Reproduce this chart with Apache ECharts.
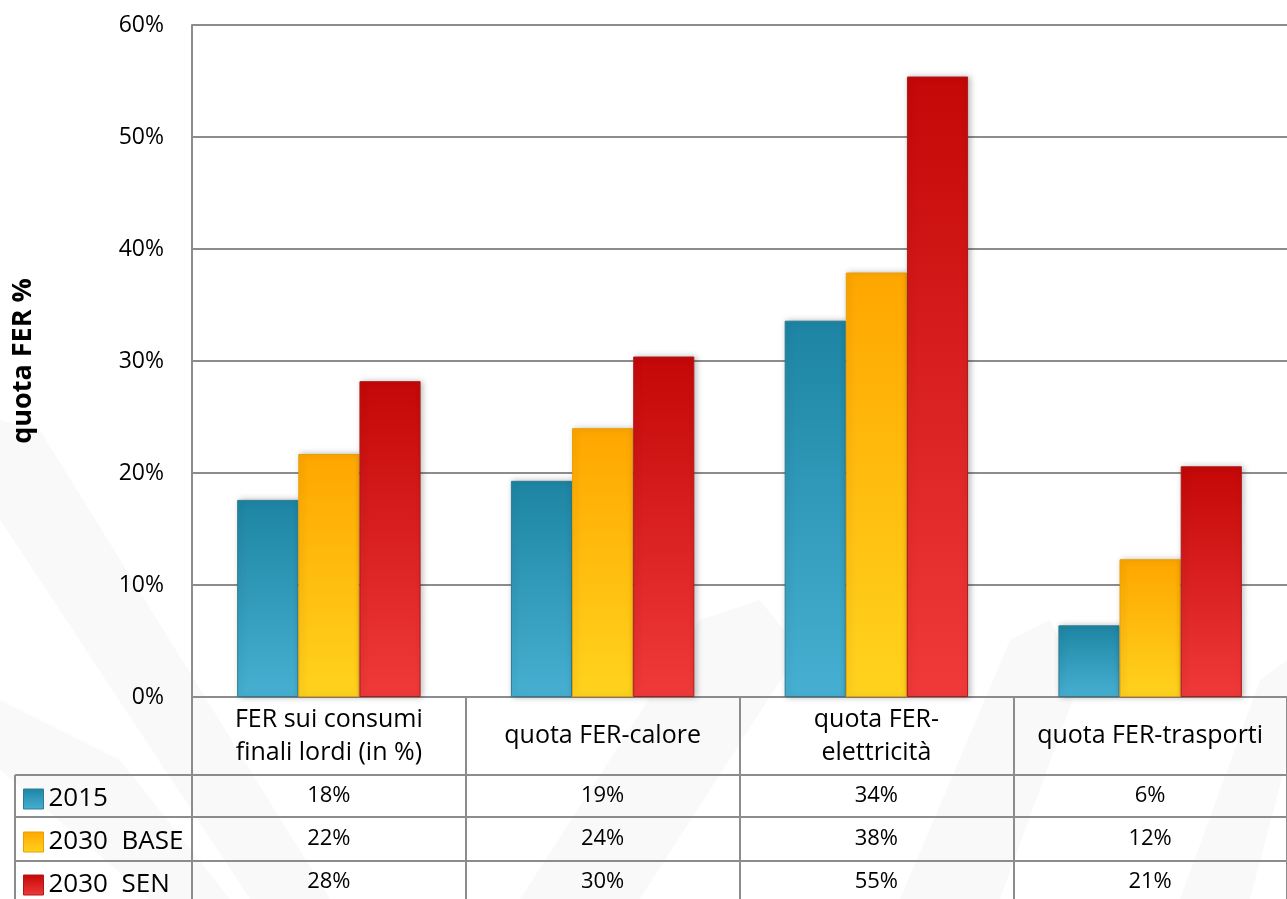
<!DOCTYPE html>
<html>
<head>
<meta charset="utf-8">
<script src="https://cdn.jsdelivr.net/npm/echarts@6/dist/echarts.min.js"></script>
<style>
html,body{margin:0;padding:0;background:#fff;}
#main{width:1287px;height:899px;}
</style>
</head>
<body>
<div id="main"></div>
<script>
const categories = ['FER sui consumi\nfinali lordi (in %)', 'quota FER-calore', 'quota FER-\nelettricità', 'quota FER-trasporti'];
const seriesNames = ['2015', '2030  BASE', '2030  SEN'];
const values2015 = [17.6, 19.3, 33.6, 6.4];
const valuesBase = [21.7, 24.0, 37.9, 12.3];
const valuesSen = [28.2, 30.4, 55.4, 20.6];
const yMin = 0, yMax = 60, yInterval = 10;
const yTitle = 'quota FER %';

const allValues = [values2015, valuesBase, valuesSen];
const pct = v => Math.round(v) + '%';

const FONT = 'Open Sans';
const LINE = '#8c8c8c';

function grad(top, bottom) {
  return new echarts.graphic.LinearGradient(0, 0, 0, 1, [
    {offset: 0, color: top}, {offset: 1, color: bottom}
  ]);
}
const colors = [
  {c: grad('#1d85a3', '#47b0d2'), b: '#2d7c94'},
  {c: grad('#ffa600', '#ffd31e'), b: '#e6a100'},
  {c: grad('#c40707', '#f03a3a'), b: '#ad1a1a'}
];

const chart = echarts.init(document.getElementById('main'));

const rowCenters = [796, 839, 882];
const axisBottom = 697;
const tableAxes = allValues.map((vals, i) => ({
  type: 'category',
  gridIndex: 0,
  position: 'bottom',
  offset: rowCenters[i] - axisBottom,
  data: vals.map(pct),
  axisLine: {show: false},
  axisTick: {show: false},
  splitLine: {show: false},
  axisLabel: {
    show: true, margin: 0, verticalAlign: 'middle', interval: 0,
    fontFamily: FONT, fontSize: 22, color: '#000'
  }
}));

const legends = seriesNames.map((name, i) => ({
  orient: 'vertical',
  left: 23, top: rowCenters[i] - 10,
  padding: 0,
  itemWidth: 20, itemHeight: 20, itemGap: 0,
  itemStyle: {borderWidth: 1},
  icon: 'rect',
  textStyle: {fontFamily: FONT, fontSize: 26, lineHeight: 20, color: '#000'},
  data: [name]
}));

const bandStyle = {fill: 'rgba(0,0,0,0.025)'};
const option = {
  backgroundColor: '#ffffff',
  animation: false,
  grid: {left: 192, top: 25, width: 1108, height: 672, containLabel: false},
  legend: legends,
  xAxis: [{
    type: 'category',
    data: categories,
    axisLine: {show: true, lineStyle: {color: LINE, width: 2}},
    axisTick: {show: true, length: 206, alignWithLabel: false, lineStyle: {color: LINE, width: 2}},
    splitLine: {show: false},
    axisLabel: {
      interval: 0, margin: 39, verticalAlign: 'middle',
      fontFamily: FONT, fontSize: 25, lineHeight: 33, color: '#000', align: 'center'
    }
  }].concat(tableAxes),
  yAxis: {
    type: 'value',
    min: yMin, max: yMax, interval: yInterval,
    name: yTitle,
    nameLocation: 'middle',
    nameRotate: 90,
    nameGap: 155,
    nameTextStyle: {fontFamily: FONT, fontWeight: 'bold', fontSize: 27, color: '#000'},
    axisLine: {show: true, lineStyle: {color: LINE, width: 2}},
    axisTick: {show: false},
    splitLine: {show: true, lineStyle: {color: LINE, width: 2}},
    axisLabel: {
      formatter: '{value}%', margin: 28,
      fontFamily: FONT, fontSize: 23, color: '#000'
    }
  },
  graphic: [
    {type: 'polygon', z: -10, shape: {points: [[0, 420], [40, 430], [330, 899], [250, 899], [0, 520]]}, style: bandStyle, silent: true},
    {type: 'polygon', z: -10, shape: {points: [[0, 700], [120, 760], [230, 899], [150, 899], [0, 770]]}, style: bandStyle, silent: true},
    {type: 'polygon', z: -10, shape: {points: [[520, 899], [700, 620], [760, 600], [800, 650], [640, 899]]}, style: bandStyle, silent: true},
    {type: 'polygon', z: -10, shape: {points: [[900, 899], [1010, 640], [1050, 620], [1080, 680], [1000, 899]]}, style: bandStyle, silent: true},
    {type: 'polygon', z: -10, shape: {points: [[1180, 899], [1260, 680], [1287, 660], [1287, 760], [1250, 899]]}, style: bandStyle, silent: true},
    {type: 'line', shape: {x1: 15, y1: 775, x2: 1287, y2: 775}, style: {stroke: LINE, lineWidth: 2}, z: 10},
    {type: 'line', shape: {x1: 15, y1: 817, x2: 1287, y2: 817}, style: {stroke: LINE, lineWidth: 2}, z: 10},
    {type: 'line', shape: {x1: 15, y1: 861, x2: 1287, y2: 861}, style: {stroke: LINE, lineWidth: 2}, z: 10},
    {type: 'line', shape: {x1: 15, y1: 775, x2: 15, y2: 899}, style: {stroke: LINE, lineWidth: 2}, z: 10}
  ],
  series: seriesNames.map((name, i) => ({
    name: name,
    type: 'bar',
    xAxisIndex: 0,
    data: allValues[i],
    barGap: '0%',
    barCategoryGap: '33%',
    itemStyle: {
      color: colors[i].c,
      borderColor: colors[i].b,
      borderWidth: 1,
      shadowBlur: 6,
      shadowColor: 'rgba(0,0,0,0.25)',
      shadowOffsetX: 2,
      shadowOffsetY: 0
    }
  }))
};
chart.setOption(option);
</script>
</body>
</html>
